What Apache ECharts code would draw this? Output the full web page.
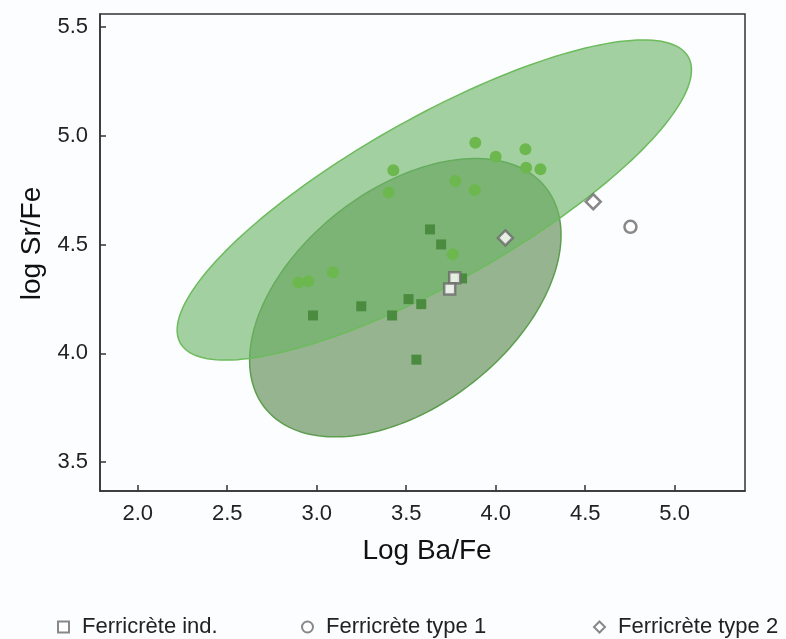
<!DOCTYPE html>
<html>
<head>
<meta charset="utf-8">
<script src="https://cdn.jsdelivr.net/npm/echarts@6/dist/echarts.min.js"></script>
<style>
html,body{margin:0;padding:0;background:#fcfdfe;}
#c{width:786px;height:639px;}
</style>
</head>
<body>
<div id="c"></div>
<script>
// Axis ticks
const xTicks = [2.0, 2.5, 3.0, 3.5, 4.0, 4.5, 5.0];
const yTicks = [3.5, 4.0, 4.5, 5.0, 5.5];

// Green groups (not in legend)
const squaresX = [2.979, 3.249, 3.421, 3.513, 3.584, 3.557, 3.633, 3.695, 3.812];
const squaresY = [4.174, 4.216, 4.174, 4.249, 4.226, 3.971, 4.569, 4.500, 4.344];
const circlesX = [2.898, 2.954, 3.091, 3.402, 3.428, 3.775, 3.883, 3.760, 3.886, 4.000, 4.166, 4.170, 4.250];
const circlesY = [4.325, 4.331, 4.372, 4.738, 4.841, 4.791, 4.750, 4.455, 4.967, 4.903, 4.937, 4.852, 4.845];

// Legend series
const indX = [3.771, 3.743];
const indY = [4.347, 4.295];
const type1X = [4.753];
const type1Y = [4.581];
const type2X = [4.054, 4.545];
const type2Y = [4.530, 4.696];

// Confidence ellipses: [centerX, centerY, halfWidthX, halfHeightY, correlation]
const bigEllipse = [3.657, 4.704, 1.437, 0.735, 0.8125];
const smallEllipse = [3.495, 4.2555, 0.870, 0.639, 0.45];

const zip = (a, b) => a.map((v, i) => [v, b[i]]);

function ellipseRender(fill, stroke) {
  return function (params, api) {
    const cx = api.value(0), cy = api.value(1), rx = api.value(2), ry = api.value(3), r = api.value(4);
    const s = Math.sqrt(1 - r * r);
    const pts = [];
    const n = 180;
    for (let i = 0; i < n; i++) {
      const t = 2 * Math.PI * i / n;
      pts.push(api.coord([cx + rx * Math.cos(t), cy + ry * (r * Math.cos(t) - s * Math.sin(t))]));
    }
    return {
      type: 'polygon',
      shape: { points: pts },
      style: { fill: fill, stroke: stroke, lineWidth: 1.5 }
    };
  };
}

const chart = echarts.init(document.getElementById('c'), null, { renderer: 'canvas' });
const font = 'Liberation Sans, Arial, sans-serif';
const hollow = { color: '#ffffff', borderColor: '#6a6a6a', borderWidth: 2.5 };

const legendBase = {
  orient: 'horizontal',
  top: 611,
  itemWidth: 11,
  itemHeight: 11,
  itemGap: 12,
  textStyle: { fontFamily: font, fontSize: 22, color: '#222', padding: [0, 0, 0, 8] },
  selectedMode: false
};

chart.setOption({
  backgroundColor: '#fcfdfe',
  animation: false,
  grid: {
    left: 100, right: 41, top: 14, bottom: 148,
    show: true, borderColor: '#333', borderWidth: 1.5, backgroundColor: 'transparent'
  },
  legend: [
    Object.assign({}, legendBase, { left: 52, data: ['Ferricrète ind.'] }),
    Object.assign({}, legendBase, { left: 296, data: ['Ferricrète type 1'] }),
    Object.assign({}, legendBase, { left: 588, data: ['Ferricrète type 2'] })
  ],
  xAxis: {
    type: 'value', min: 1.789, max: 5.393,
    name: 'Log Ba/Fe', nameLocation: 'middle', nameGap: 46,
    nameTextStyle: { fontFamily: font, fontSize: 28, color: '#111', padding: [0, 0, 0, 9] },
    axisLine: { show: true, lineStyle: { color: '#333', width: 1.5 } },
    axisTick: { show: true, inside: true, length: 6, customValues: xTicks, lineStyle: { color: '#333', width: 1.5 } },
    axisLabel: { customValues: xTicks, margin: 12, fontFamily: font, fontSize: 22, color: '#222', formatter: v => v.toFixed(1) },
    splitLine: { show: false }
  },
  yAxis: {
    type: 'value', min: 3.368, max: 5.558,
    name: 'log Sr/Fe', nameLocation: 'middle', nameGap: 52, nameRotate: 90,
    nameTextStyle: { fontFamily: font, fontSize: 28, color: '#111', padding: [0, 0, 0, 18] },
    axisLine: { show: true, lineStyle: { color: '#333', width: 1.5 } },
    axisTick: { show: true, inside: true, length: 6, customValues: yTicks, lineStyle: { color: '#333', width: 1.5 } },
    axisLabel: { customValues: yTicks, margin: 12, fontFamily: font, fontSize: 22, color: '#222', formatter: v => v.toFixed(1) },
    splitLine: { show: false }
  },
  series: [
    {
      name: 'small ellipse', type: 'custom', coordinateSystem: 'cartesian2d', silent: true, z: 1,
      renderItem: ellipseRender('#96b48f', '#5c9e4e'),
      encode: { x: 0, y: 1 },
      data: [smallEllipse]
    },
    {
      name: 'big ellipse', type: 'custom', coordinateSystem: 'cartesian2d', silent: true, z: 2,
      renderItem: ellipseRender('rgba(108,181,103,0.62)', '#6cbb5c'),
      encode: { x: 0, y: 1 },
      data: [bigEllipse]
    },
    {
      name: 'squares', type: 'scatter', symbol: 'rect', symbolSize: 10, z: 3,
      itemStyle: { color: '#4b8b40', opacity: 1 },
      data: zip(squaresX, squaresY)
    },
    {
      name: 'circles', type: 'scatter', symbol: 'circle', symbolSize: 12, z: 3,
      itemStyle: { color: '#6cb84e', opacity: 1 },
      data: zip(circlesX, circlesY)
    },
    {
      name: 'Ferricrète ind.', type: 'scatter', symbol: 'rect', symbolSize: 11, z: 4,
      itemStyle: hollow,
      data: zip(indX, indY)
    },
    {
      name: 'Ferricrète type 1', type: 'scatter', symbol: 'circle', symbolSize: 12, z: 4,
      itemStyle: hollow,
      data: zip(type1X, type1Y)
    },
    {
      name: 'Ferricrète type 2', type: 'scatter', symbol: 'diamond', symbolSize: 15, z: 4,
      itemStyle: hollow,
      data: zip(type2X, type2Y)
    }
  ]
});
</script>
</body>
</html>
